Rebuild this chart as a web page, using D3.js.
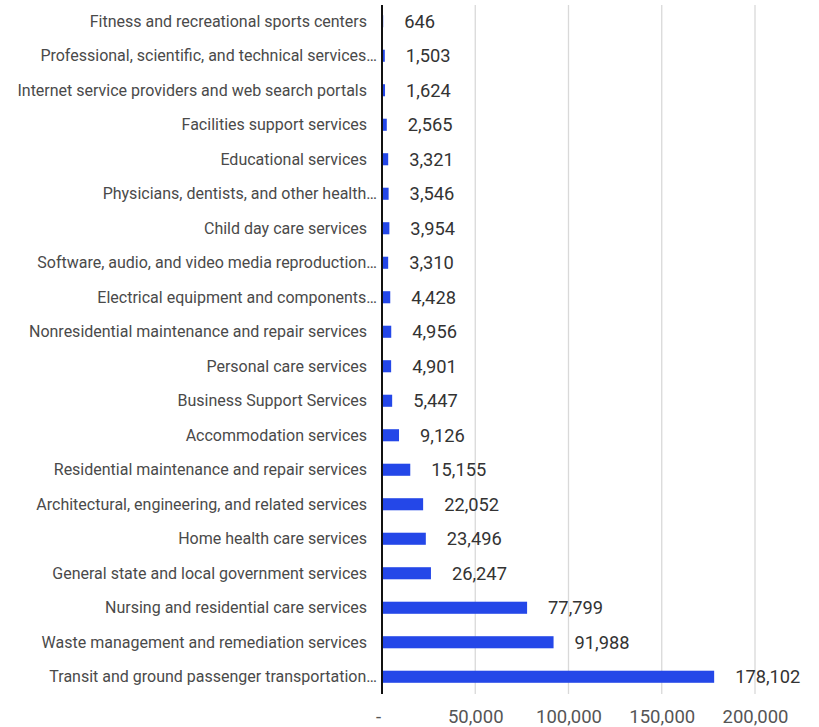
<!DOCTYPE html>
<html>
<head>
<meta charset="utf-8">
<script src="https://cdn.jsdelivr.net/npm/d3@7"></script>
<style>
  html, body { margin: 0; padding: 0; background: #fff; }
  svg { display: block; font-family: Roboto, "Noto Sans", sans-serif; }
</style>
</head>
<body>
<svg id="chart" width="819" height="727"></svg>
<script>
// Industry categories, top to bottom
const categories = [
  "Fitness and recreational sports centers",
  "Professional, scientific, and technical services…",
  "Internet service providers and web search portals",
  "Facilities support services",
  "Educational services",
  "Physicians, dentists, and other health…",
  "Child day care services",
  "Software, audio, and video media reproduction…",
  "Electrical equipment and components…",
  "Nonresidential maintenance and repair services",
  "Personal care services",
  "Business Support Services",
  "Accommodation services",
  "Residential maintenance and repair services",
  "Architectural, engineering, and related services",
  "Home health care services",
  "General state and local government services",
  "Nursing and residential care services",
  "Waste management and remediation services",
  "Transit and ground passenger transportation…"
];

const values = [
  646, 1503, 1624, 2565, 3321, 3546, 3954, 3310, 4428, 4956,
  4901, 5447, 9126, 15155, 22052, 23496, 26247, 77799, 91988, 178102
];

const tickValues = [0, 50000, 100000, 150000, 200000];
const tickLabels = ["-", "50,000", "100,000", "150,000", "200,000"];

const svg = d3.select("#chart");
const fmt = d3.format(",");

const x = d3.scaleLinear().domain([0, 200000]).range([382, 755]);
const y = d3.scaleBand().domain(categories).range([4, 694]).paddingInner(0.65).paddingOuter(0.325);

// vertical gridlines
svg.append("g")
  .selectAll("line")
  .data(tickValues.slice(1))
  .join("line")
  .attr("x1", d => x(d)).attr("x2", d => x(d))
  .attr("y1", 5).attr("y2", 694)
  .attr("stroke", "#d9d9d9").attr("stroke-width", 1.3);

// bars
svg.append("g")
  .selectAll("rect")
  .data(values)
  .join("rect")
  .attr("x", x(0))
  .attr("y", (d, i) => y(categories[i]))
  .attr("width", d => x(d) - x(0))
  .attr("height", y.bandwidth())
  .attr("fill", "#2447e8");

// value labels
svg.append("g")
  .selectAll("text")
  .data(values)
  .join("text")
  .attr("x", d => x(d) + 21)
  .attr("y", (d, i) => y(categories[i]) + y.bandwidth() / 2)
  .attr("dy", "0.35em")
  .attr("font-size", 18.3)
  .attr("fill", "#333")
  .text(d => fmt(d));

// category labels (truncated names run slightly further right, up to the axis)
svg.append("g")
  .selectAll("text")
  .data(categories)
  .join("text")
  .attr("x", d => d.endsWith("…") ? 377 : 367)
  .attr("y", d => y(d) + y.bandwidth() / 2)
  .attr("dy", "0.35em")
  .attr("text-anchor", "end")
  .attr("font-size", 16)
  .attr("fill", "#4a4a4a")
  .text(d => d);

// baseline axis at zero
svg.append("line")
  .attr("x1", x(0)).attr("x2", x(0))
  .attr("y1", 5).attr("y2", 694)
  .attr("stroke", "#111").attr("stroke-width", 2);

// bottom axis tick labels
const xAxis = d3.axisBottom(x)
  .tickValues(tickValues)
  .tickFormat((d, i) => tickLabels[i])
  .tickSize(0)
  .tickPadding(0);
const ax = svg.append("g").attr("transform", "translate(0,710)").call(xAxis);
ax.select(".domain").remove();
ax.selectAll("text")
  .attr("font-family", "Roboto, 'Noto Sans', sans-serif")
  .attr("font-size", 18.5)
  .attr("fill", "#555")
  .attr("dy", "0.71em")
  .attr("y", 0);
ax.selectAll(".tick").filter(d => d === 0).select("text").attr("dx", -4);
</script>
</body>
</html>
